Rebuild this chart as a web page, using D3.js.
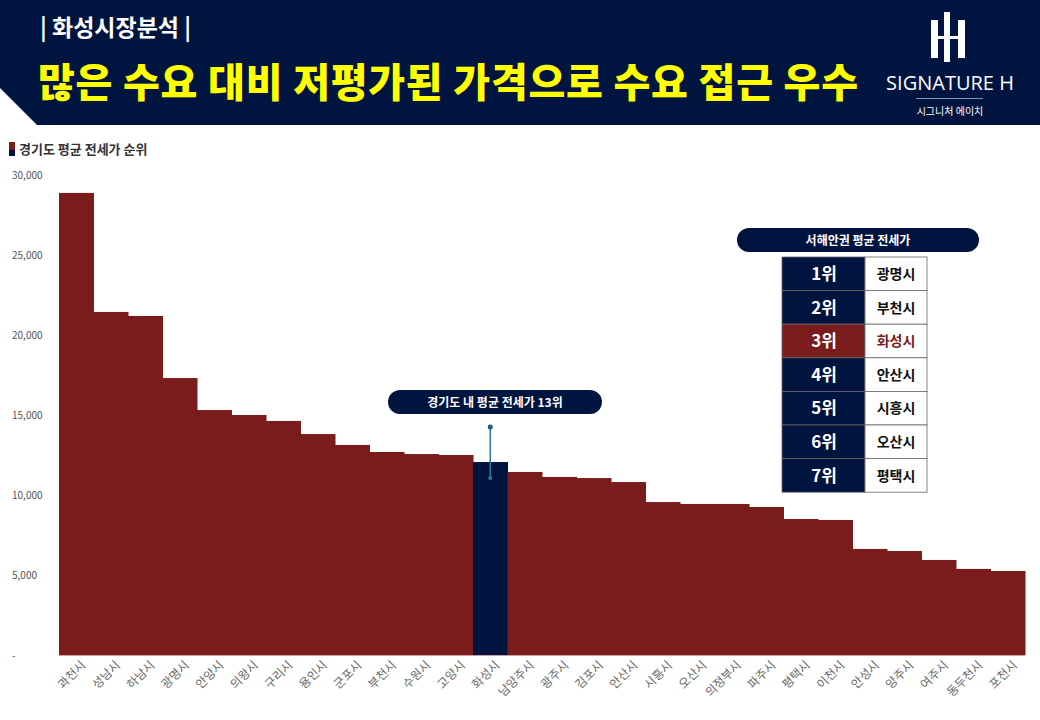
<!DOCTYPE html>
<html><head><meta charset="utf-8">
<script src="https://cdn.jsdelivr.net/npm/d3@7"></script>
<style>body{margin:0;background:#fff;font-family:"Noto Sans CJK KR","Noto Sans",sans-serif}</style>
</head><body>
<svg id="chart" width="1040" height="720"></svg>
<script>
const cities = ['과천시','성남시','하남시','광명시','안양시','의왕시','구리시','용인시','군포시','부천시','수원시','고양시','화성시','남양주시','광주시','김포시','안산시','시흥시','오산시','의정부시','파주시','평택시','이천시','안성시','양주시','여주시','동두천시','포천시'];
const rents = [28880,21440,21190,17310,15310,15000,14630,13810,13130,12690,12560,12500,12060,11440,11130,11060,10810,9560,9440,9440,9250,8500,8440,6630,6500,5940,5380,5250];
const yTicks = [0,5000,10000,15000,20000,25000,30000];
const rankNames = ['광명시','부천시','화성시','안산시','시흥시','오산시','평택시'];
const highlight = '화성시';

const navy = '#001440', red = '#7a1c1c';
const svg = d3.select('#chart');

// header
svg.append('path').attr('d','M0,0H1040V125H37L0,88Z').attr('fill',navy);
svg.append('text').attr('x',40).attr('y',36).attr('fill','#fff').attr('font-size',23).attr('font-weight',700).text('| 화성시장분석 |');
svg.append('text').attr('x',38).attr('y',97).attr('fill','#ffff00').attr('font-size',40).attr('font-weight',900)
  .attr('textLength',820).attr('lengthAdjust','spacing').text('많은 수요 대비 저평가된 가격으로 수요 접근 우수');
// logo
const logo = svg.append('g').attr('fill','#fff');
logo.append('rect').attr('x',931).attr('y',20).attr('width',7).attr('height',38);
logo.append('rect').attr('x',944).attr('y',12).attr('width',6).attr('height',50);
logo.append('rect').attr('x',958).attr('y',20).attr('width',7).attr('height',38);
logo.append('rect').attr('x',938).attr('y',36).attr('width',20).attr('height',3);
logo.append('text').attr('x',950).attr('y',90).attr('text-anchor','middle').attr('font-size',20).attr('font-family','"Open Sans",sans-serif').text('SIGNATURE H');
logo.append('rect').attr('x',916).attr('y',98).attr('width',67).attr('height',1).attr('fill','#8890a8');
logo.append('text').attr('x',950).attr('y',115).attr('text-anchor','middle').attr('font-size',10).text('시그니처 에이치');

// legend
const grad = svg.append('defs').append('linearGradient').attr('id','lg').attr('x1',0).attr('x2',0).attr('y1',0).attr('y2',1);
grad.append('stop').attr('offset','55%').attr('stop-color',red);
grad.append('stop').attr('offset','55%').attr('stop-color',navy);
svg.append('rect').attr('x',9).attr('y',142).attr('width',6).attr('height',14).attr('fill','url(#lg)');
svg.append('text').attr('x',19).attr('y',154).attr('font-size',13).attr('font-weight',700).attr('fill','#333').text('경기도 평균 전세가 순위');

// scales
const x = d3.scaleBand().domain(cities).range([59,1025]).padding(0);
const y = d3.scaleLinear().domain([0,30000]).range([655,175]);

svg.append('g').selectAll('text').data(yTicks).join('text')
  .attr('x',12).attr('y',d=>y(d)+4).attr('font-size',10).attr('fill','#555')
  .text(d=>d===0?'-':d3.format(',')(d));

svg.append('g').selectAll('rect').data(cities).join('rect')
  .attr('x',d=>x(d)).attr('width',x.bandwidth()+0.5)
  .attr('y',(d,i)=>y(rents[i])).attr('height',(d,i)=>y(0)-y(rents[i]))
  .attr('fill',d=>d===highlight?navy:red);
svg.append('line').attr('x1',59).attr('x2',1025).attr('y1',655.5).attr('y2',655.5).attr('stroke','#c9a0a0');

svg.append('g').selectAll('text').data(cities).join('text')
  .attr('transform',d=>`translate(${x(d)+x.bandwidth()/2+10},${666}) rotate(-45)`)
  .attr('text-anchor','end').attr('font-size',12).attr('fill','#666').text(d=>d);

// annotation
const hx = x(highlight)+x.bandwidth()/2;
svg.append('rect').attr('x',388).attr('y',390).attr('width',214).attr('height',24).attr('rx',12).attr('fill',navy);
svg.append('text').attr('x',495).attr('y',407).attr('text-anchor','middle').attr('fill','#fff').attr('font-size',12).attr('font-weight',700).text('경기도 내 평균 전세가 13위');
svg.append('line').attr('x1',hx).attr('x2',hx).attr('y1',427).attr('y2',478).attr('stroke','#2b7a99').attr('stroke-width',1.5);
svg.append('circle').attr('cx',hx).attr('cy',427).attr('r',2.5).attr('fill','#1c5a7a');
svg.append('circle').attr('cx',hx).attr('cy',478).attr('r',2).attr('fill','#2b7a99');

// rank table
svg.append('rect').attr('x',737).attr('y',228).attr('width',242).attr('height',24).attr('rx',12).attr('fill',navy);
svg.append('text').attr('x',858).attr('y',245).attr('text-anchor','middle').attr('fill','#fff').attr('font-size',12).attr('font-weight',700).text('서해안권 평균 전세가');
const rowH = 33.6;
const rows = svg.append('g').selectAll('g').data(rankNames).join('g')
  .attr('transform',(d,i)=>`translate(782,${257+i*rowH})`);
rows.append('rect').attr('width',83).attr('height',rowH).attr('fill',d=>d===highlight?red:navy).attr('stroke','#666').attr('stroke-width',0.8);
rows.append('rect').attr('x',83).attr('width',62).attr('height',rowH).attr('fill','#fff').attr('stroke','#666').attr('stroke-width',0.8);
rows.append('text').attr('x',42).attr('y',23).attr('text-anchor','middle').attr('fill','#fff').attr('font-size',17).attr('font-weight',700).text((d,i)=>`${i+1}위`);
rows.append('text').attr('x',114).attr('y',22).attr('text-anchor','middle').attr('fill',d=>d===highlight?red:'#111').attr('font-size',14).attr('font-weight',700).text(d=>d);
</script>
</body></html>
